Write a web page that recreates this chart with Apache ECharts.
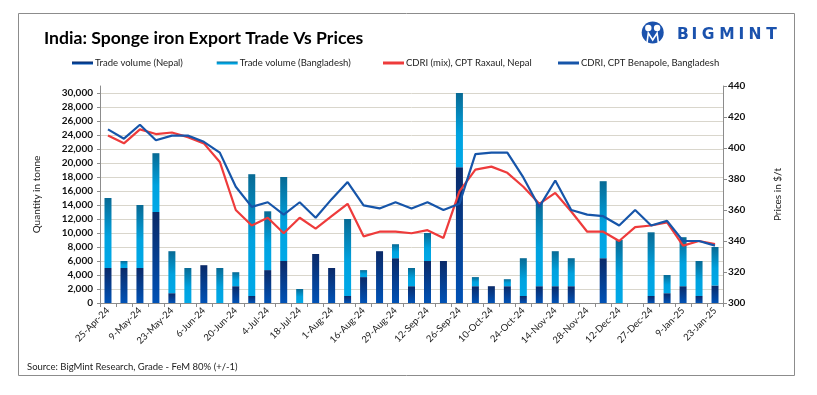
<!DOCTYPE html>
<html>
<head>
<meta charset="utf-8">
<script src="https://cdn.jsdelivr.net/npm/echarts@6/dist/echarts.min.js"></script>
<style>
html,body{margin:0;padding:0;background:#fff;}
#c{width:817px;height:395px;}
</style>
</head>
<body>
<div id="c"></div>
<script>
var categories = ['25-Apr-24','2-May-24','9-May-24','16-May-24','23-May-24','30-May-24','6-Jun-24','13-Jun-24','20-Jun-24','27-Jun-24','4-Jul-24','11-Jul-24','18-Jul-24','25-Jul-24','1-Aug-24','8-Aug-24','16-Aug-24','22-Aug-24','29-Aug-24','5-Sep-24','12-Sep-24','19-Sep-24','26-Sep-24','3-Oct-24','10-Oct-24','17-Oct-24','24-Oct-24','7-Nov-24','14-Nov-24','21-Nov-24','28-Nov-24','5-Dec-24','12-Dec-24','19-Dec-24','27-Dec-24','2-Jan-25','9-Jan-25','16-Jan-25','23-Jan-25'];
var tradeNepal = [5000,5000,5000,13000,1400,0,5400,0,2400,1000,4700,6000,0,7000,5000,1000,3700,7400,6400,2400,6000,6000,19400,2400,2400,2400,1000,2400,2400,2400,0,6400,0,0,1000,1400,2400,1000,2500];
var tradeBangladesh = [10000,1000,9000,8400,6000,5000,0,5000,2000,17400,8400,12000,2000,0,0,11000,1000,0,2000,2600,4000,0,10600,1300,0,1000,5400,12000,5000,4000,0,11000,9000,0,9100,2600,7000,5000,5500];
var priceRaxaul = [408,403,412,409,410,407,403,391,360,350,355,345,355,348,356,364,343,346,346,345,347,342,372,386,388,384,375,364,371,359,346,346,340,349,350,352,337,340,338];
var priceBenapole = [412,406,415,405,408,408,404,397,375,362,365,357,365,355,367,378,363,361,365,361,365,360,364,396,397,397,381,362,379,360,357,356,350,360,350,353,340,340,337];
var seriesNames = ['Trade volume (Nepal)','Trade volume (Bangladesh)','CDRI (mix), CPT Raxaul, Nepal','CDRI, CPT Benapole, Bangladesh'];

var FONT = 'Lato';
var nepalGrad = new echarts.graphic.LinearGradient(0,0,0,1,[{offset:0,color:'#0b2a68'},{offset:1,color:'#0052b6'}]);
var bdGrad = new echarts.graphic.LinearGradient(0,0,0,1,[{offset:0,color:'#086a94'},{offset:0.55,color:'#00a2df'},{offset:1,color:'#00a9e8'}]);

var chart = echarts.init(document.getElementById('c'), null, {renderer:'canvas'});

function legendAt(left, name){
  return {left:left, top:58, data:[name], itemWidth:21, itemHeight:3, itemGap:0, icon:'rect',
    padding:0, selectedMode:false,
    textStyle:{fontFamily:FONT, fontSize:9.5, color:'#222', padding:[0,0,0,-3]}};
}

var letters = ['B','I','G','M','I','N','T'];
var letterX = [683,694.5,708,727,741.5,755,771.5];
var logoEls = [
  {type:'rect', shape:{x:18.5,y:13.5,width:776,height:362}, style:{fill:'none', stroke:'#8c8c8c', lineWidth:1}, silent:true},
  {type:'circle', shape:{cx:652.7,cy:32.5,r:11}, style:{fill:'#1b52ad'}},
  {type:'circle', shape:{cx:648.3,cy:28,r:3.2}, style:{fill:'#fff'}},
  {type:'circle', shape:{cx:657.1,cy:28,r:3.2}, style:{fill:'#fff'}},
  {type:'polyline', shape:{points:[[647,43],[648.3,33],[652.7,40],[657.1,33],[658.4,43]]}, style:{fill:'none',stroke:'#fff',lineWidth:1.6}},
  {type:'text', left:27, top:362, style:{text:'Source: BigMint Research, Grade - FeM 80% (+/-1)', fontFamily:FONT, fontSize:9.5, fill:'#222'}}
];
letters.forEach(function(l,i){
  logoEls.push({type:'text', x:letterX[i], y:35, style:{text:l, fontFamily:'DejaVu Sans', fontWeight:'bold', fontSize:15.5, fill:'#1b52ad', align:'center', verticalAlign:'middle'}});
});

var option = {
  animation:false,
  backgroundColor:'#fff',
  title:{text:'India: Sponge iron Export Trade Vs Prices', left:39, top:24,
    textStyle:{fontFamily:FONT, fontWeight:'bold', fontSize:17.6, color:'#000'}},
  legend:[
    legendAt(72, seriesNames[0]),
    legendAt(216.7, seriesNames[1]),
    legendAt(383, seriesNames[2]),
    legendAt(558, seriesNames[3])
  ],
  graphic:logoEls,
  grid:{left:100, right:94, top:86, bottom:92, containLabel:false},
  xAxis:{type:'category', data:categories, boundaryGap:true,
    axisLine:{lineStyle:{color:'#8c8c8c', width:1}},
    axisTick:{show:true, interval:0, length:4, lineStyle:{color:'#8c8c8c'}},
    axisLabel:{interval:1, rotate:45, fontFamily:FONT, fontSize:9.5, color:'#222', margin:6},
    splitLine:{show:false}},
  yAxis:[
    {type:'value', min:0, max:31000, interval:2000, position:'left',
     name:'Quantity in tonne', nameLocation:'middle', nameGap:58, nameRotate:90,
     nameTextStyle:{fontFamily:FONT, fontSize:10, color:'#222'},
     axisLine:{show:true, lineStyle:{color:'#8c8c8c'}},
     axisTick:{show:true, length:3, inside:false, lineStyle:{color:'#8c8c8c'}},
     axisLabel:{showMaxLabel:false, fontFamily:FONT, fontSize:10, fontWeight:'bold', color:'#111', margin:7,
       formatter:function(v){return v.toLocaleString('en-US');}},
     splitLine:{show:true, showMaxLine:false, lineStyle:{color:'#d9d6cc', width:1}}},
    {type:'value', min:300, max:440, interval:20, position:'right',
     name:'Prices in $/t', nameLocation:'middle', nameGap:50, nameRotate:90,
     nameTextStyle:{fontFamily:FONT, fontSize:10, color:'#222'},
     axisLine:{show:true, lineStyle:{color:'#8c8c8c'}},
     axisTick:{show:true, length:4, lineStyle:{color:'#8c8c8c'}},
     axisLabel:{fontFamily:FONT, fontSize:10, fontWeight:'bold', color:'#111', margin:5},
     splitLine:{show:false}}
  ],
  series:[
    {name:seriesNames[0], type:'bar', stack:'vol', yAxisIndex:0, data:tradeNepal, barWidth:7,
     itemStyle:{color:nepalGrad}},
    {name:seriesNames[1], type:'bar', stack:'vol', yAxisIndex:0, data:tradeBangladesh, barWidth:7,
     itemStyle:{color:bdGrad}},
    {name:seriesNames[2], type:'line', yAxisIndex:1, data:priceRaxaul, showSymbol:false, symbol:'none',
     lineStyle:{color:'#ee3b3b', width:2.2}, itemStyle:{color:'#ee3b3b'}},
    {name:seriesNames[3], type:'line', yAxisIndex:1, data:priceBenapole, showSymbol:false, symbol:'none',
     lineStyle:{color:'#1655a9', width:2.2}, itemStyle:{color:'#1655a9'}}
  ]
};
chart.setOption(option);
</script>
</body>
</html>
